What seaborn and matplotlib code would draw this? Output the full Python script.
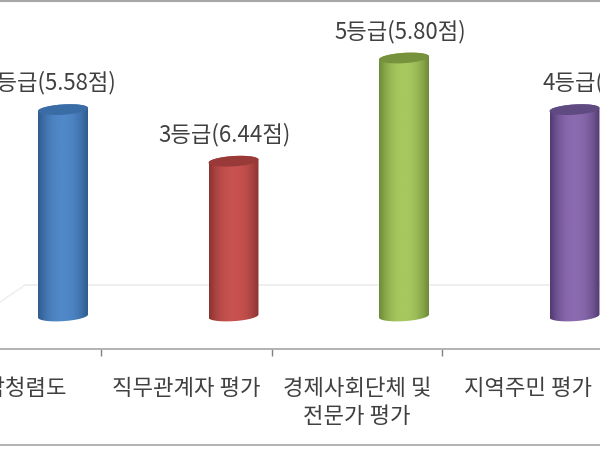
import numpy as np
import pandas as pd
import matplotlib
matplotlib.use('Agg')
import matplotlib.pyplot as plt
from matplotlib.colors import LinearSegmentedColormap
from matplotlib.lines import Line2D
from matplotlib.patches import Polygon
import seaborn as sns

# values: bar height is the grade, the label carries the score
categories = ['종합청렴도', '직무관계자 평가', '경제사회단체 및\n전문가 평가', '지역주민 평가']
grades = [4, 3, 5, 4]
scores = ['5.58', '6.44', '5.80', '']
light_colors = ['#5088c8', '#c8524f', '#a6c85e', '#8b6bb0']
dark_colors = ['#2f5a8e', '#8a3432', '#6c8a38', '#513a70']
top_colors = ['#3a6ca6', '#993a38', '#76923c', '#5f4a82']
label_shift = [-13 / 170.5, -9 / 170.5, -3.5 / 170.5, -32 / 170.5]

sns.set_theme(style='white')
plt.rcParams['font.family'] = ['Noto Sans CJK KR', 'DejaVu Sans']

fig = plt.figure(figsize=(6, 4.5), dpi=100)
ax = fig.add_axes([0, 101 / 450, 1, 349 / 450])

podaci = pd.DataFrame({'kategorija': categories, 'razred': grades})
sns.barplot(data=podaci, x='kategorija', y='razred', color='#888888', width=0.293, ax=ax)

# pixel scale of the crop: bars 170.5 px apart, one grade is 51.6 px
x_min = -63 / 170.5
x_max = x_min + 600 / 170.5
y_min = -33 / 51.6
y_max = 316 / 51.6
shear = 0.03
half_h = 0.10


def rub(xc, yc, a, t):
    # tilted ellipse in data coords
    return np.column_stack([xc + a * np.cos(t), yc + half_h * np.sin(t) + shear * np.cos(t)])


for i, bar in enumerate(ax.patches):
    bar.set_visible(False)
    a = bar.get_width() / 2
    xc = bar.get_x() + a
    h = bar.get_height()
    tijelo = np.vstack([rub(xc, h, a, np.linspace(0, np.pi, 40)),
                        rub(xc, 0, a, np.linspace(np.pi, 2 * np.pi, 40))])
    clip = Polygon(tijelo, closed=True, transform=ax.transData)
    cmap = LinearSegmentedColormap.from_list('valjak', [light_colors[i], dark_colors[i]])
    gradijent = np.abs(np.linspace(-1, 1, 80)) ** 2.2
    slika = ax.imshow(gradijent[np.newaxis, :], cmap=cmap, vmin=0, vmax=1, aspect='auto', zorder=3,
                      extent=[xc - a, xc + a, -1, h + 1])
    slika.set_clip_path(clip)
    ax.add_patch(Polygon(rub(xc, h, a, np.linspace(0, 2 * np.pi, 60)), closed=True,
                         facecolor=top_colors[i], edgecolor='none', zorder=4))
    # the last label is cut by the crop edge
    if scores[i]:
        ax.text(xc + label_shift[i], h + 0.52, f'{grades[i]}등급({scores[i]}점)', ha='center', va='center',
                fontsize=16, fontweight='medium', color='#404040', zorder=5)
    else:
        ax.text(xc + label_shift[i], h + 0.52, f'{grades[i]}등급(', ha='left', va='center',
                fontsize=16, fontweight='medium', color='#404040', zorder=5)

# back wall and floor line
ax.plot([x_min + 25 / 170.5, x_max], [0.60, 0.60], color='#ececec', lw=1.2, zorder=1)
ax.plot([x_min, x_min + 25 / 170.5], [0.27, 0.60], color='#f0f0f0', lw=1.2, zorder=1)

sredine = [i - 47 / 170.5 for i in range(len(categories))]
granice = [i + 38 / 170.5 for i in range(len(categories) - 1)]
ax.set_xticks(sredine, categories, fontsize=16, fontweight='medium', color='#404040', linespacing=1.3)
ax.set_xticks(granice, minor=True)
ax.tick_params(axis='x', which='major', length=0, pad=20)
ax.tick_params(axis='x', which='minor', bottom=True, length=5, width=1, color='#808080')
ax.set_yticks([])
ax.set_xlabel('')
ax.set_ylabel('')
ax.set_xlim(x_min, x_max)
ax.set_ylim(y_min, y_max)
sns.despine(ax=ax, left=True)
ax.spines['bottom'].set_color('#a6a6a6')
ax.spines['bottom'].set_linewidth(1.2)
ax.patch.set_alpha(0)

# frame lines of the cropped picture
fig.add_artist(Line2D([0, 1], [1 - 1 / 450, 1 - 1 / 450], color='#a6a6a6', lw=1.5))
fig.add_artist(Line2D([0, 1], [1 - 445 / 450, 1 - 445 / 450], color='#a6a6a6', lw=1.2))

fig.savefig('out.png', dpi=100)
